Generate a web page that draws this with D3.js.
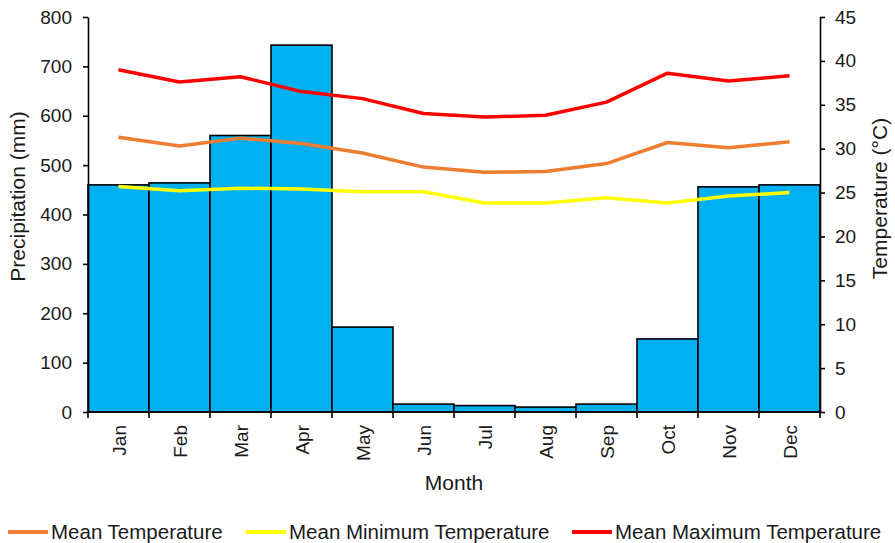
<!DOCTYPE html>
<html>
<head>
<meta charset="utf-8">
<script src="https://cdn.jsdelivr.net/npm/d3@7"></script>
<style>
  html, body { margin: 0; padding: 0; background: #fff; }
  svg { display: block; font-family: "Liberation Sans", Arial, sans-serif; }
  .tick text { fill: #1a1a1a; }
</style>
</head>
<body>
<svg id="chart" width="895" height="543"></svg>
<script>
// Monthly climate data
const months = ["Jan", "Feb", "Mar", "Apr", "May", "Jun", "Jul", "Aug", "Sep", "Oct", "Nov", "Dec"];
const precipitation = [460, 464, 560, 743, 172, 16, 13, 10, 16, 148, 456, 460];
const meanTemp = [31.3, 30.3, 31.2, 30.6, 29.5, 27.9, 27.3, 27.4, 28.3, 30.7, 30.1, 30.8];
const minTemp = [25.7, 25.2, 25.5, 25.4, 25.1, 25.1, 23.8, 23.8, 24.4, 23.8, 24.6, 25.0];
const maxTemp = [39.0, 37.6, 38.2, 36.5, 35.7, 34.0, 33.6, 33.8, 35.3, 38.6, 37.7, 38.3];
const precipTicks = [0, 100, 200, 300, 400, 500, 600, 700, 800];
const tempTicks = [0, 5, 10, 15, 20, 25, 30, 35, 40, 45];

const series = [
  { name: "Mean Temperature", values: meanTemp, color: "#ED7D31" },
  { name: "Mean Minimum Temperature", values: minTemp, color: "#FFFF00" },
  { name: "Mean Maximum Temperature", values: maxTemp, color: "#FF0000" }
];

const svg = d3.select("#chart");
const plotLeft = 88, plotRight = 820, plotTop = 17, plotBottom = 412;

const x = d3.scaleBand().domain(months).range([plotLeft, plotRight]).padding(0);
const yP = d3.scaleLinear().domain([0, 800]).range([plotBottom, plotTop]);
const yT = d3.scaleLinear().domain([0, 45]).range([plotBottom, plotTop]);

// Precipitation bars
svg.append("g")
  .selectAll("rect")
  .data(months)
  .join("rect")
  .attr("x", d => x(d))
  .attr("y", (d, i) => yP(precipitation[i]))
  .attr("width", x.bandwidth())
  .attr("height", (d, i) => yP(0) - yP(precipitation[i]))
  .attr("fill", "#00B0F0")
  .attr("stroke", "#000")
  .attr("stroke-width", 1.6);

// Temperature lines
const line = d3.line()
  .x((d, i) => x(months[i]) + x.bandwidth() / 2)
  .y(d => yT(d));

svg.append("g")
  .selectAll("path")
  .data(series)
  .join("path")
  .attr("d", d => line(d.values))
  .attr("fill", "none")
  .attr("stroke", d => d.color)
  .attr("stroke-width", 3.5)
  .attr("stroke-linejoin", "round");

// Left axis
const axL = svg.append("g")
  .attr("transform", `translate(${plotLeft},0)`)
  .call(d3.axisLeft(yP).tickValues(precipTicks).tickSize(5).tickPadding(11).tickSizeOuter(0));
axL.selectAll("text").attr("font-size", 19).attr("font-family", "Liberation Sans, Arial, sans-serif");

// Right axis
const axR = svg.append("g")
  .attr("transform", `translate(${plotRight},0)`)
  .call(d3.axisRight(yT).tickValues(tempTicks).tickSize(5).tickPadding(10).tickSizeOuter(0));
axR.selectAll("text").attr("font-size", 19).attr("font-family", "Liberation Sans, Arial, sans-serif");

[axL, axR].forEach(g => {
  g.select(".domain").attr("stroke", "#000").attr("stroke-width", 1.6);
  g.selectAll(".tick line").attr("stroke", "#000").attr("stroke-width", 1.6);
});

// Bottom axis: baseline, ticks at band edges, rotated month labels
const edges = months.map(m => x(m)).concat([x.range()[1]]);
const axB = svg.append("g");
axB.append("line")
  .attr("x1", plotLeft).attr("x2", plotRight)
  .attr("y1", yP(0)).attr("y2", yP(0))
  .attr("stroke", "#000").attr("stroke-width", 1.6);
axB.selectAll("line.tk")
  .data(edges)
  .join("line")
  .attr("class", "tk")
  .attr("x1", d => d).attr("x2", d => d)
  .attr("y1", yP(0)).attr("y2", yP(0) + 6)
  .attr("stroke", "#000").attr("stroke-width", 1.6);
axB.selectAll("text")
  .data(months)
  .join("text")
  .attr("transform", d => `translate(${x(d) + x.bandwidth() / 2 + 1},${yP(0) + 13}) rotate(-90)`)
  .attr("text-anchor", "end")
  .attr("dy", "0.35em")
  .attr("font-size", 19)
  .attr("fill", "#1a1a1a")
  .text(d => d);

// Axis titles
svg.append("text")
  .attr("transform", `translate(25,${(plotTop + plotBottom) / 2 - 18}) rotate(-90)`)
  .attr("text-anchor", "middle")
  .attr("font-size", 21)
  .attr("fill", "#1a1a1a")
  .text("Precipitation (mm)");

svg.append("text")
  .attr("transform", `translate(887,${(plotTop + plotBottom) / 2 - 16}) rotate(-90)`)
  .attr("text-anchor", "middle")
  .attr("font-size", 21)
  .attr("fill", "#1a1a1a")
  .text("Temperature (°C)");

svg.append("text")
  .attr("x", (plotLeft + plotRight) / 2)
  .attr("y", 490)
  .attr("text-anchor", "middle")
  .attr("font-size", 21)
  .attr("fill", "#1a1a1a")
  .text("Month");

// Legend
const legendX = [8, 246, 572];
const legend = svg.append("g")
  .selectAll("g")
  .data(series)
  .join("g")
  .attr("transform", (d, i) => `translate(${legendX[i]},532)`);
legend.append("line")
  .attr("x1", 0).attr("x2", 40)
  .attr("y1", 0).attr("y2", 0)
  .attr("stroke", d => d.color)
  .attr("stroke-width", 4);
legend.append("text")
  .attr("x", 43)
  .attr("y", 7)
  .attr("font-size", 20.5)
  .attr("fill", "#1a1a1a")
  .text(d => d.name);
</script>
</body>
</html>
